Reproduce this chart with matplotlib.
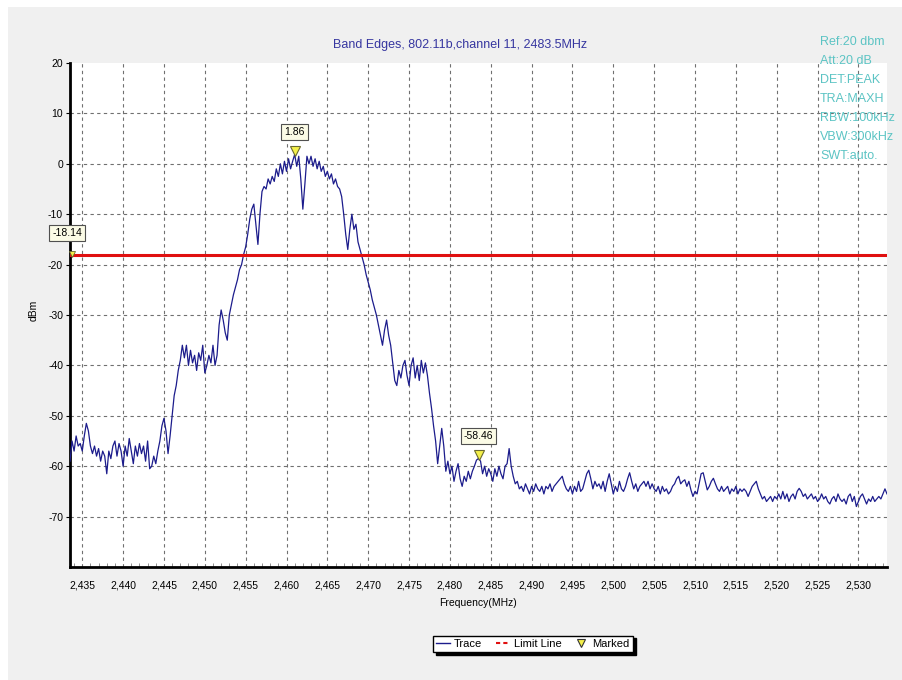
import numpy as np
import matplotlib
matplotlib.use("Agg")
import matplotlib.pyplot as plt
from matplotlib.lines import Line2D
from matplotlib.patches import Rectangle
from matplotlib.ticker import FuncFormatter, MultipleLocator

plt.rcParams['font.family'] = ['Liberation Sans', 'DejaVu Sans']
plt.rcParams['axes.unicode_minus'] = False

# sweep: 2433.5 .. 2533.5 MHz, 0.25 MHz per point (401 points)
f_start, f_stop = 2433.5, 2533.5
trace_dbm = [
    -59, -55, -57, -54, -56, -55.5, -57, -54, -51.5, -53, -56, -57.5, -56, -58, -56.5, -59, -57, -58, -61.5, -57,
    -58.5, -56, -55, -58, -55.5, -57, -60, -56, -58, -54.5, -57, -59.5, -56, -58, -55.5, -57.5, -56, -59, -55, -60.5,
    -60, -58, -59.5, -57, -55, -52, -50.5, -53, -57.5, -54, -50, -46, -44, -41, -39, -36, -38.5, -36, -40, -37,
    -39.5, -38, -41, -37.5, -39, -36, -41.5, -40, -38, -39.5, -36, -40, -38, -32, -29, -31, -33.5, -35, -30, -28,
    -26, -24.5, -23, -21, -20, -18, -16.5, -14, -11, -9, -8, -12, -16, -10, -5.5, -4.5, -5, -3, -4, -2.5,
    -3.5, -1, -2.5, 0, -2, 0.5, -1.5, 1, -1, 0.5, 1.86, -0.5, 1.5, -3, -9, -4, 1.5, 0, 1.5, -0.5,
    1, -1, 0.5, -1.5, -0.5, -2.5, -1.5, -3, -2, -4, -3, -4.5, -5, -6.5, -10, -14, -17, -13, -10, -13,
    -12, -15.5, -17, -18.5, -20, -22, -23.5, -25, -27, -28.5, -30, -32, -34, -36, -33, -31, -34, -36, -39.5, -43,
    -44, -41, -42.5, -40, -39, -42, -44, -40, -38.5, -42.5, -40, -43, -39, -41.5, -39.5, -42, -45.5, -48.5, -52, -55,
    -59.5, -56, -52.5, -56, -61, -59, -61.5, -60, -63, -61, -59.5, -62.5, -64, -62, -63, -61, -62.5, -61, -60, -58.8,
    -58.46, -59, -61.5, -60, -62, -60.5, -61.5, -63, -60.5, -62, -60, -61.5, -62.5, -60, -59.5, -56.5, -60, -62, -63.5, -63,
    -64.5, -64, -65, -63.5, -64.5, -65.5, -64, -65, -63.5, -64.5, -65, -64, -65.5, -64, -64.5, -63.5, -65, -64, -63.5, -63,
    -62.5, -62, -63.5, -64.5, -65, -64, -65.5, -64, -65, -63, -65, -64.5, -63, -61.5, -60.8, -62.5, -64.5, -63, -64, -63.5,
    -64.5, -63, -65, -63, -61.5, -63.5, -65.5, -64, -65, -63, -64.5, -65, -64, -62.5, -61.3, -63, -64.5, -63.5, -65, -64,
    -63.5, -63, -64, -63, -64.5, -63.5, -64.5, -65, -64, -65.5, -64, -65, -64.5, -65.5, -65, -64, -63.5, -62.5, -62, -63.5,
    -63, -62.7, -64, -63, -64.7, -66, -65, -65.5, -63.5, -61.5, -61.3, -63, -64.7, -64, -63, -62.4, -63.5, -64.5, -65, -64,
    -65, -64.5, -64, -65.5, -64.5, -65, -64, -65.5, -64.5, -65, -64.5, -65, -66, -65, -64, -63.5, -63, -64.5, -65.5, -66.5,
    -66, -67, -66.5, -66, -67, -66, -66.5, -65.5, -66.5, -65, -66.5, -65.5, -67, -66, -65.5, -66.5, -65, -64.4, -65, -66,
    -65.5, -66.5, -66, -65.5, -66.5, -66, -67, -66.5, -65.5, -66.5, -66, -67, -67.5, -66.5, -66, -67, -65.5, -66.5, -67, -66.5,
    -67.5, -66, -65.5, -67, -66, -68, -67, -66, -65.5, -66.5, -67.5, -66.5, -67, -66, -67, -66.5, -66, -66.5, -65.5, -64.5,
    -65.5,
]
freq = np.linspace(f_start, f_stop, len(trace_dbm))

limit_dbm = -18.14
marker_freqs = [2461.0, 2483.5]
marker_vals = [1.86, -58.46]
info_lines = ["Ref:20 dbm", "Att:20 dB", "DET:PEAK", "TRA:MAXH", "RBW:100kHz", "VBW:300kHz", "SWT:auto."]

trace_col = '#1c1c8c'
limit_col = '#e01010'
mark_fc = '#f4f04a'
box_fc = '#fbfbe6'

fig = plt.figure(figsize=(9.02, 6.8), dpi=100, facecolor='white')
fig.patches.append(Rectangle((8 / 902, 0), 1, 1 - 7 / 680, transform=fig.transFigure,
                             facecolor='#f0f0f0', edgecolor='none', zorder=-10))

ax = fig.add_axes([70 / 902, 113 / 680, 817 / 902, 504 / 680])
ax.set_facecolor('white')

ax.plot(freq, trace_dbm, color=trace_col, lw=0.9, zorder=3)
ax.axhline(limit_dbm, color=limit_col, lw=2.2, zorder=4)

ax.set_xlim(f_start, f_stop)
ax.set_ylim(-80, 20)
ax.set_xticks(np.arange(2435, 2531, 5))
ax.xaxis.set_minor_locator(MultipleLocator(1))
ax.set_yticks(np.arange(-70, 21, 10))
ax.xaxis.set_major_formatter(FuncFormatter(lambda v, p: f"{v:,.0f}"))

ax.grid(True, which='major', color='#707070', linestyle=(0, (3, 3)), lw=0.8)
ax.yaxis.get_gridlines()[-1].set_visible(False)

for s in ['top', 'right']:
    ax.spines[s].set_visible(False)
for s in ['left', 'bottom']:
    ax.spines[s].set_linewidth(2)
    ax.spines[s].set_color('black')

ax.tick_params(axis='y', which='major', length=3, direction='out', labelsize=7.5, pad=2)
ax.tick_params(axis='x', which='major', length=0, labelsize=7.5, pad=10)
ax.tick_params(axis='x', which='minor', length=3, direction='in', color='#808080')

ax.set_xlabel("Frequency(MHz)", fontsize=7.5, labelpad=5)
ax.set_ylabel("dBm", fontsize=7.5)
ax.yaxis.set_label_coords(-0.038, 0.51)

# markers with value boxes
bbox = dict(boxstyle='square,pad=0.3', fc=box_fc, ec='#505050', lw=0.8)
for fx, fv in zip(marker_freqs, marker_vals):
    ax.plot(fx, fv + 0.6, marker='v', ms=7, mfc=mark_fc, mec='#6a6a30', mew=0.8, zorder=6)
    ax.annotate(f"{fv:.2f}", (fx, fv), xytext=(0, 16), textcoords='offset points',
                ha='center', va='center', fontsize=7.5, bbox=bbox, zorder=7)
ax.plot(f_start + 0.25, limit_dbm + 0.3, marker='v', ms=4, mfc=mark_fc, mec='#6a6a30',
        mew=0.6, zorder=6, clip_on=False)
ax.annotate(f"{limit_dbm:.2f}", (f_start, limit_dbm), xytext=(-2, 16), textcoords='offset points',
            ha='center', va='center', fontsize=7.5, bbox=bbox, zorder=7, annotation_clip=False)

fig.text(460 / 902, 1 - 45 / 680, "Band Edges, 802.11b,channel 11, 2483.5MHz",
         ha='center', va='center', fontsize=9, color='#3636a0')
for i, line in enumerate(info_lines):
    fig.text(820 / 902, 1 - (42 + 19 * i) / 680, line, ha='left', va='center',
             fontsize=9, color='#5cc4c4')

handles = [
    Line2D([], [], color=trace_col, lw=1),
    Line2D([], [], color=limit_col, lw=1.5, linestyle=(0, (2, 1.5))),
    Line2D([], [], linestyle='none', marker='v', ms=6, mfc=mark_fc, mec='#333333', mew=0.8),
]
fig.legend(handles, ["Trace", "Limit Line", "Marked"], loc='center', ncol=3,
           bbox_to_anchor=(533 / 902, 1 - 644 / 680), fontsize=8, frameon=True,
           fancybox=False, edgecolor='black', framealpha=1, shadow={'color': 'black', 'alpha': 1},
           handlelength=1.2, handletextpad=0.4, columnspacing=1.2, borderpad=0.3)

fig.savefig("out.png", dpi=100, facecolor=fig.get_facecolor())
